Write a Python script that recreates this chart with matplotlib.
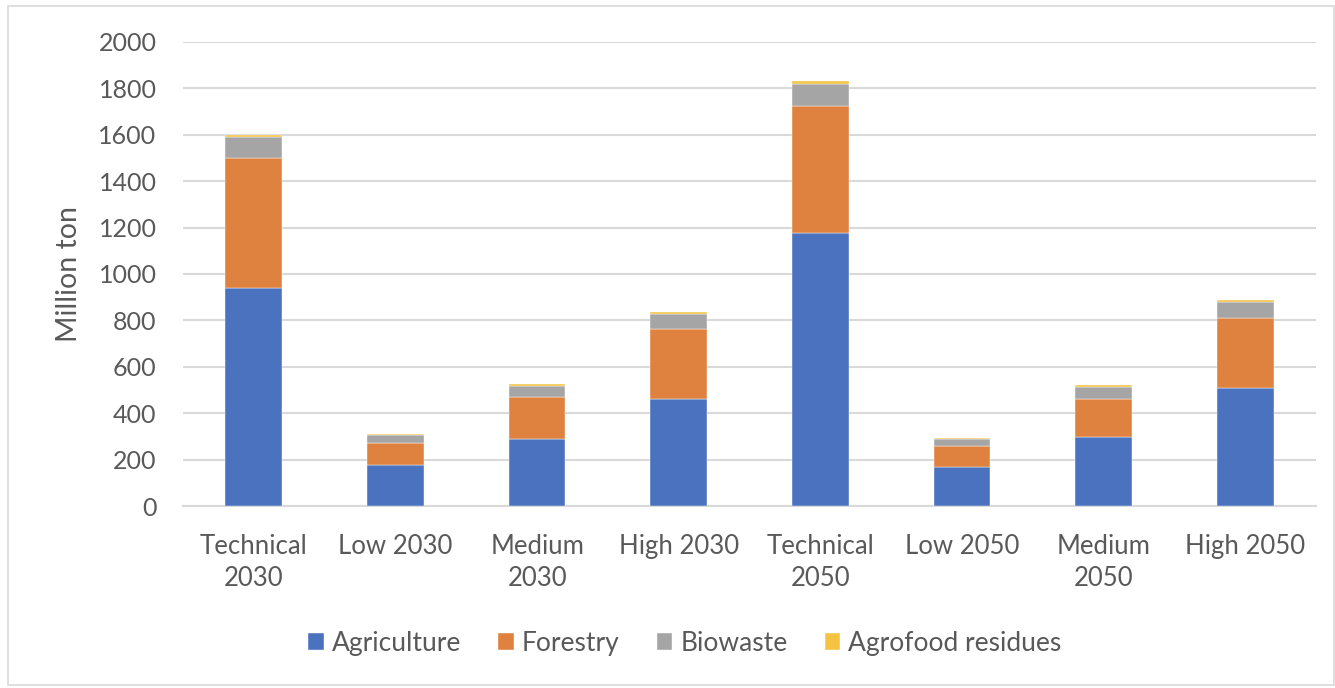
import matplotlib
matplotlib.use("Agg")
import matplotlib.pyplot as plt
from matplotlib.patches import Rectangle
import numpy as np

categories = ["Technical\n2030", "Low 2030", "Medium\n2030", "High 2030",
              "Technical\n2050", "Low 2050", "Medium\n2050", "High 2050"]
agriculture = [940, 177, 290, 460, 1177, 170, 297, 508]
forestry = [560, 96, 180, 303, 547, 89, 164, 302]
biowaste = [92, 34, 49, 65, 95, 30, 53, 70]
agrofood = [8, 5, 7, 10, 11, 5, 6, 10]
series_names = ["Agriculture", "Forestry", "Biowaste", "Agrofood residues"]
colors = ["#4A72BF", "#E0823F", "#A5A5A5", "#F5C342"]
yticks = [0, 200, 400, 600, 800, 1000, 1200, 1400, 1600, 1800, 2000]

plt.rcParams['font.family'] = ['Lato', 'DejaVu Sans']
txt = "#595959"

fig = plt.figure(figsize=(13.35, 6.88), dpi=100)
fig.patches.append(Rectangle((0.006, 0.004), 0.993, 0.988, transform=fig.transFigure,
                             fill=False, edgecolor="#d9d9d9", linewidth=1.2))
ax = fig.add_axes([0.137, 0.2645, 0.849, 0.6745])

x = np.arange(len(categories))
bottom = np.zeros(len(categories))
for name, vals, c in zip(series_names, [agriculture, forestry, biowaste, agrofood], colors):
    ax.bar(x, vals, bottom=bottom, width=0.40, color=c, label=name, zorder=3,
           edgecolor="white", linewidth=0.3)
    bottom += np.array(vals)

ax.set_ylim(0, 2000)
ax.set_xlim(-0.5, len(categories) - 0.5)
ax.set_yticks(yticks)
ax.set_yticklabels([str(v) for v in yticks], fontsize=18, color=txt)
ax.set_xticks(x)
ax.set_xticklabels(categories, fontsize=18.5, color=txt, linespacing=1.35)
ax.tick_params(axis='x', length=0, pad=20)
ax.tick_params(axis='y', length=0, pad=19)
ax.grid(axis='y', color="#d9d9d9", linewidth=1.5, zorder=0)
for s in ["top", "right", "left"]:
    ax.spines[s].set_visible(False)
ax.spines["bottom"].set_color("#d9d9d9")
ax.spines["bottom"].set_linewidth(1.5)
ax.set_ylabel("Million ton", fontsize=20.5, color=txt, labelpad=12)

leg = fig.legend(loc="center", bbox_to_anchor=(0.513, 0.065), ncol=4, frameon=False,
                 fontsize=19, handlelength=0.6, handleheight=0.6, handletextpad=0.3,
                 columnspacing=1.4)
for t in leg.get_texts():
    t.set_color(txt)

fig.savefig("out.png", dpi=100)
